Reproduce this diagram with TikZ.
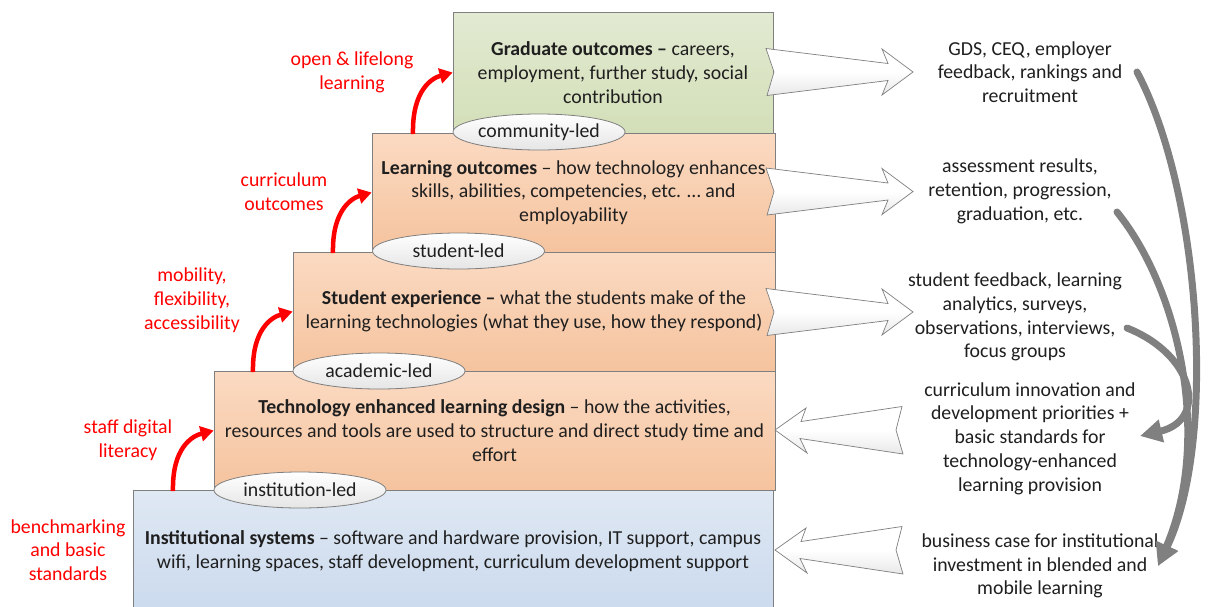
\documentclass[tikz,border=0pt]{standalone}
\usepackage{fontspec}
\setmainfont{Carlito}
\usetikzlibrary{shapes.geometric,arrows.meta}
\definecolor{lineg}{HTML}{7F7F7F}
\definecolor{curveg}{HTML}{808080}
\definecolor{grtop}{HTML}{E2EAD2}
\definecolor{grbot}{HTML}{D3DFB8}
\definecolor{ortop}{HTML}{FBDAC2}
\definecolor{orbot}{HTML}{F5C39E}
\definecolor{bltop}{HTML}{DFE8F3}
\definecolor{blbot}{HTML}{CBDAEE}
\tikzset{
  txt/.style={font=\fontsize{19.8}{23.8}\selectfont, align=center, inner sep=0pt, text=black!88},
  redtxt/.style={txt, text={rgb,255:red,255;green,0;blue,0}},
  levelbox/.style={draw=lineg, line width=0.8pt, rectangle, inner sep=0pt, txt},
  ledby/.style={ellipse, draw=lineg, line width=0.8pt, top color=white, bottom color=black!10,
     minimum width=172pt, minimum height=36pt, inner sep=0pt, txt},
  blockarrow/.style={draw=lineg, line width=0.7pt, top color=white, bottom color=black!9, middle color=white},
  redarrow/.style={draw=red, line width=4.5pt, -{Triangle[length=13pt,width=15pt]}},
  grayarrow/.style={draw=curveg, line width=7pt, line cap=round, -{Triangle[length=22pt,width=22pt]}}
}
\begin{document}
\begin{tikzpicture}[x=1pt,y=-1pt]
\useasboundingbox (0,0) rectangle (1213,606);
\fill[white] (0,0) rectangle (1213,606);

% level boxes
\node[levelbox, top color=bltop, bottom color=blbot, minimum width=640pt, minimum height=122pt] (b1) at (453,551)
  {\textbf{Institutional systems} -- software and hardware provision, IT support, campus\\wifi, learning spaces, staff development, curriculum development support};
\node[levelbox, top color=ortop, bottom color=orbot, minimum width=561pt, minimum height=119pt] (b2) at (494.5,430.5)
  {\textbf{Technology enhanced learning design} -- how the activities,\\resources and tools are used to structure and direct study time and\\effort};
\node[levelbox, top color=ortop, bottom color=orbot, minimum width=482pt, minimum height=119pt] (b3) at (534,311.5)
  {\textbf{Student experience --} what the students make of the\\learning technologies (what they use, how they respond)};
\node[levelbox, top color=ortop, bottom color=orbot, minimum width=403pt, minimum height=119pt] (b4) at (573.5,192.5)
  {\textbf{Learning outcomes} -- how technology enhances\\skills, abilities, competencies, etc. \dots\ and\\employability};
\node[levelbox, top color=grtop, bottom color=grbot, minimum width=320pt, minimum height=121pt] (b5) at (613,72.5)
  {\textbf{Graduate outcomes --} careers,\\employment, further study, social\\contribution};

% led-by ellipses
\node[ledby] (e5) at (539,132) {community-led};
\node[ledby] (e4) at (458.5,251) {student-led};
\node[ledby] (e3) at (379,371) {academic-led};
\node[ledby] (e2) at (300,490) {institution-led};

% red labels
\node[redtxt] (l5) at (352,72) {open \& lifelong\\learning};
\node[redtxt] (l4) at (284,192) {curriculum\\outcomes};
\node[redtxt] (l3) at (192,300) {mobility,\\flexibility,\\accessibility};
\node[redtxt] (l2) at (128,440) {staff digital\\literacy};
\node[redtxt] (l1) at (68,550) {benchmarking\\and basic\\standards};

% red arrows
\coordinate (rs1) at (173,491);
\coordinate (rs2) at (253,372);
\coordinate (rs3) at (333,253);
\coordinate (rs4) at (413,134);
\draw[redarrow] (rs1) .. controls (172,448) and (192,436) .. (b2.west);
\draw[redarrow] (rs2) .. controls (252,329) and (272,317) .. (b3.west);
\draw[redarrow] (rs3) .. controls (332,210) and (352,198) .. (b4.west);
\draw[redarrow] (rs4) .. controls (412,90) and (432,78) .. (b5.west);

% right texts
\node[txt] (r5) at (1030,72) {GDS, CEQ, employer\\feedback, rankings and\\recruitment};
\node[txt] (r4) at (1020,191.5) {assessment results,\\retention, progression,\\graduation, etc.};
\node[txt] (r3) at (1015,317) {student feedback, learning\\analytics, surveys,\\observations, interviews,\\focus groups};
\node[txt] (r2) at (1030,438.5) {curriculum innovation and\\development priorities +\\basic standards for\\technology-enhanced\\learning provision};
\node[txt] (r1) at (1040,566) {business case for institutional\\investment in blended and\\mobile learning};

% block arrows to the right
\foreach \yc in {72,191.5,312}{
  \draw[blockarrow] (766,\yc-23.5) -- (888,\yc-8.5) -- (882,\yc-23) -- (913,\yc) -- (882,\yc+23)
     -- (888,\yc+8.5) -- (767,\yc+23.5) -- (774,\yc) -- cycle;
}
% block arrows to the left
\foreach \yc in {430,550}{
  \draw[blockarrow] (775,\yc) -- (806,\yc-22) -- (801,\yc-8.5) -- (902,\yc-23.5) -- (896,\yc)
     -- (903,\yc+24) -- (800,\yc+8.5) -- (807,\yc+23) -- cycle;
}

% gray curved arrows
\coordinate (g5) at (1137,72);
\coordinate (g4) at (1117,212);
\coordinate (g3) at (1127,328);
\coordinate (t2) at (1140,436);
\coordinate (t1) at (1158,566);
\draw[grayarrow] (g5) .. controls (1200,190) and (1218,440) .. (t1);
\draw[grayarrow] (g4) .. controls (1180,290) and (1212,440) .. (t1);
\draw[grayarrow] (g3) .. controls (1195,355) and (1208,420) .. (t2);
\end{tikzpicture}
\end{document}
